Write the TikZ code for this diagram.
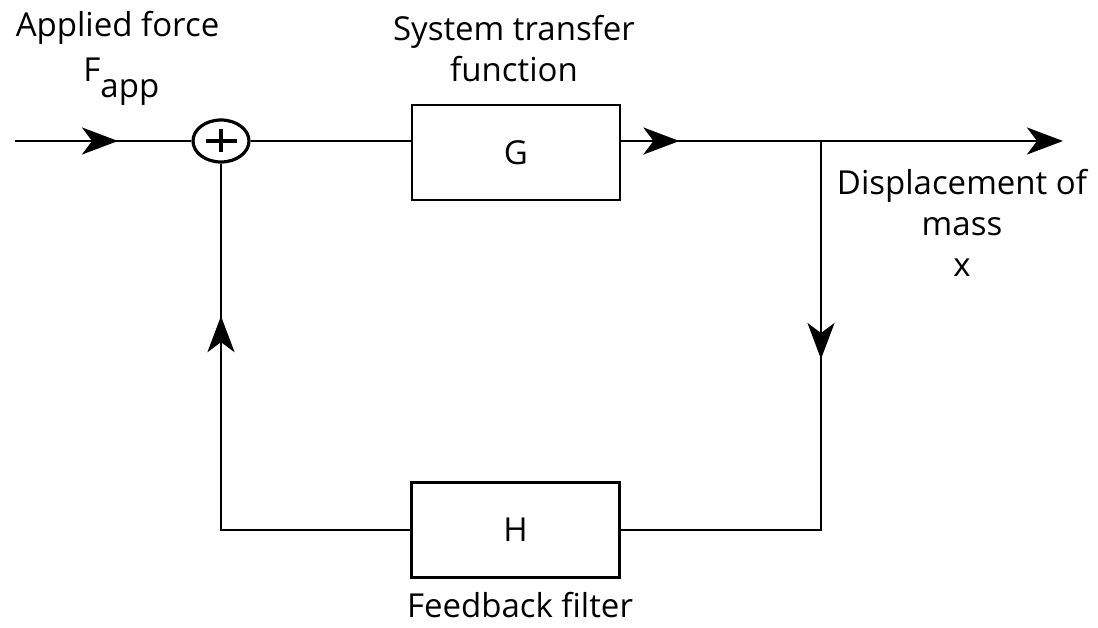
\documentclass[tikz,border=0pt]{standalone}
\usepackage{fontspec}
\setmainfont{Open Sans}
\usetikzlibrary{arrows.meta,shapes.geometric,decorations.markings,calc}
\begin{document}
\begin{tikzpicture}[x=1bp,y=-1bp, line width=2.8bp,
  >={Stealth[length=36bp,width=27bp,inset=10bp]},
  lbl/.style={font=\fontsize{33bp}{41bp}\selectfont, inner sep=0pt, align=center},
  blk/.style={draw, minimum width=208bp, minimum height=95bp, inner sep=0pt, font=\fontsize{33bp}{42bp}\selectfont},
  midarrow/.style={postaction={decorate}, decoration={markings, mark=at position #1 with {\arrow{>}}}}]
\useasboundingbox (0,0) rectangle (1098,628);

\node[ellipse, draw, line width=3.2bp, minimum width=56bp, minimum height=42bp, inner sep=0pt] (sum) at (221,141) {};
\draw[line width=3.2bp] (sum.center) ++(-15.5,0) -- ++(31,0);
\draw[line width=3.2bp] (sum.center) ++(0,-11.5) -- ++(0,23);

\node[blk] (G) at (516,152.5) {G};
\node[blk] (H) at (515.5,530) {H};

\coordinate (in) at (15,141);
\coordinate (out) at (1063,141);
\coordinate (br) at (821,141);

\draw[midarrow=103bp] (in) -- (sum.west);
\draw (sum.east) -- (sum.east -| G.west);
\draw[->, midarrow=58bp] (G.east |- sum.east) -- (out);
\draw[midarrow=218bp] (br) |- (H.east);
\draw[midarrow=403bp] (H.west) -| (sum.south);

\node[lbl, anchor=base] (lapp) at (117.5,37) {Applied force};
\node[lbl, anchor=base west] (lf) at (82,82) {F\raisebox{-16bp}{app}};
\node[lbl, anchor=base] (lsys) at (514,82) {System transfer\\function};
\node[lbl, anchor=base] (ldisp) at (962,277) {Displacement of\\mass\\x};
\node[lbl, anchor=base] (lfb) at (520,617) {Feedback filter};
\end{tikzpicture}
\end{document}
